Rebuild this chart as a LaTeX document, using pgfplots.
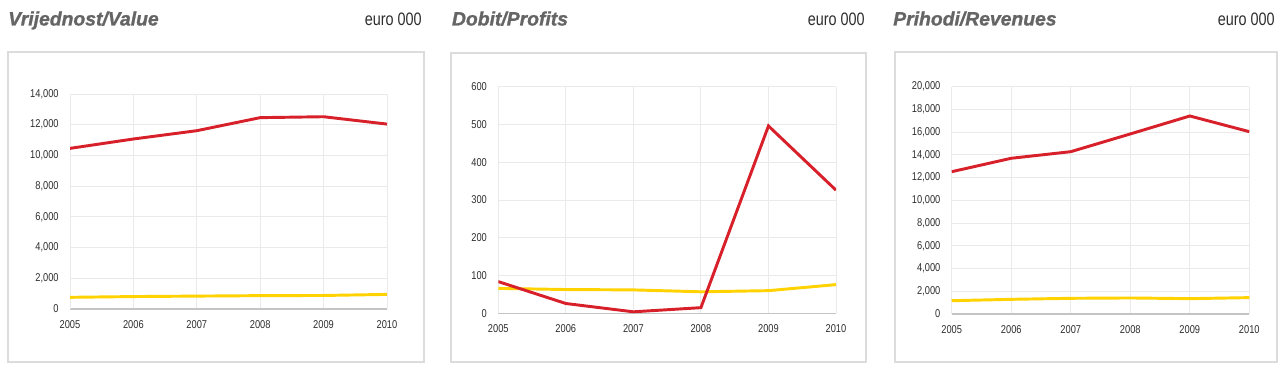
\documentclass[border=0pt]{standalone}
\usepackage{fontspec}
\setmainfont{Liberation Sans}
\newfontfamily\tickfont[FakeStretch=0.82]{Liberation Sans}
\newfontfamily\eurofont[FakeStretch=0.8]{Liberation Sans}
\newfontfamily\titfont[FakeBold=1.2]{Liberation Sans Bold Italic}
\usepackage{pgfplots}
\pgfplotsset{compat=1.18}
\definecolor{redl}{HTML}{D7202A}
\definecolor{yell}{HTML}{FFD200}
\definecolor{gridc}{HTML}{EAEAEA}
\definecolor{axc}{HTML}{C4C4C4}
\definecolor{boxc}{HTML}{DCDCDC}
\definecolor{titc}{HTML}{656565}
\definecolor{txtc}{HTML}{2E2E2E}
\pgfplotsset{
  panel/.style={
    scale only axis, anchor=south west,
    xmin=2005, xmax=2010, xtick={2005,...,2010}, ymin=0,
    grid=major, major grid style={draw=gridc, line width=0.6pt},
    axis lines=left, axis line style={-},
    x axis line style={draw=axc, line width=0.8pt},
    y axis line style={draw=gridc, line width=0.6pt},
    major tick length=0pt,
    /pgf/number format/assume math mode=true,
    ticklabel style={font=\tickfont\fontsize{8.5}{9}\selectfont, text=txtc},
    xticklabel style={/pgf/number format/1000 sep={}, yshift=-5pt},
    yticklabel style={/pgf/number format/1000 sep={,}, xshift=-5pt},
    scaled y ticks=false,
  },
  redline/.style={draw=redl, line width=2.2pt},
  yelline/.style={draw=yell, line width=2.2pt},
}
\begin{document}
\begin{tikzpicture}
\useasboundingbox (0,0) rectangle (960pt,274.5pt);
% frames
\draw[boxc, line width=1.5pt] (6pt,3pt) rectangle (318pt,235.5pt);
\draw[boxc, line width=1.5pt] (338.25pt,3pt) rectangle (649.5pt,235pt);
\draw[boxc, line width=1.5pt] (671.25pt,3pt) rectangle (957.75pt,235.5pt);
% titles
\node[anchor=base west, inner sep=0pt, text=titc, font=\titfont\fontsize{14.5}{16}\selectfont] at (6pt,255.4pt) {Vrijednost/Value};
\node[anchor=base west, inner sep=0pt, text=titc, font=\titfont\fontsize{14.5}{16}\selectfont] at (338.8pt,255.4pt) {Dobit/Profits};
\node[anchor=base west, inner sep=0pt, text=titc, font=\titfont\fontsize{14.5}{16}\selectfont] at (669.75pt,255.4pt) {Prihodi/Revenues};
\node[anchor=base east, inner sep=0pt, text=txtc, font=\eurofont\fontsize{13.5}{15}\selectfont] at (316.5pt,255.4pt) {euro 000};
\node[anchor=base east, inner sep=0pt, text=txtc, font=\eurofont\fontsize{13.5}{15}\selectfont] at (648.75pt,255.4pt) {euro 000};
\node[anchor=base east, inner sep=0pt, text=txtc, font=\eurofont\fontsize{13.5}{15}\selectfont] at (956.25pt,255.4pt) {euro 000};

\begin{axis}[panel, at={(52.5pt,42.75pt)}, width=237.75pt, height=161.25pt,
  ymax=14000, ytick={0,2000,...,14000}]
\addplot[yelline] coordinates {(2005,760) (2006,810) (2007,840) (2008,870) (2009,880) (2010,950)};
\addplot[redline] coordinates {(2005,10460) (2006,11070) (2007,11610) (2008,12460) (2009,12520) (2010,12040)};
\end{axis}

\begin{axis}[panel, at={(373.7pt,39.5pt)}, width=253.3pt, height=170pt,
  ymax=600, ytick={0,100,...,600}]
\addplot[yelline] coordinates {(2005,66) (2006,63) (2007,62) (2008,57) (2009,60) (2010,76)};
\addplot[redline] coordinates {(2005,84) (2006,26) (2007,4) (2008,15) (2009,496) (2010,326)};
\end{axis}

\begin{axis}[panel, at={(713.8pt,39pt)}, width=223.2pt, height=170.5pt,
  ymax=20000, ytick={0,2000,...,20000}]
\addplot[yelline] coordinates {(2005,1170) (2006,1290) (2007,1380) (2008,1410) (2009,1350) (2010,1440)};
\addplot[redline] coordinates {(2005,12520) (2006,13700) (2007,14280) (2008,15840) (2009,17420) (2010,16040)};
\end{axis}
\end{tikzpicture}
\end{document}
